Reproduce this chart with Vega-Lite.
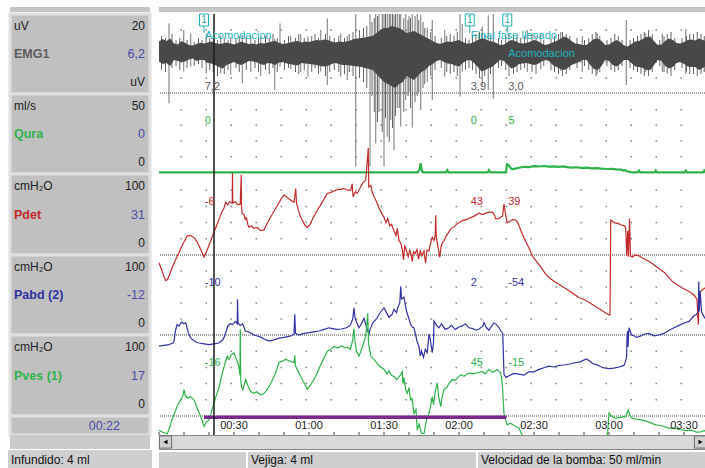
{
"$schema":"https://vega.github.io/schema/vega-lite/v6.json",
"padding":{"left":8,"top":7,"right":7,"bottom":0},
"background":"#ffffff",
"config":{"view":{"stroke":null},"font":"Liberation Sans"},
"datasets":{
"one":[{"ref":"baseline"}],
"cursor":[{"t":22}],
"edge":[{"t":219.2}],
"ticks":[{"t":0},{"t":10},{"t":20},{"t":30},{"t":40},{"t":50},{"t":60},{"t":70},{"t":80},{"t":90},{"t":100},{"t":110},{"t":120},{"t":130},{"t":140},{"t":150},{"t":160},{"t":170},{"t":180},{"t":190},{"t":200},{"t":210}],
"timeLabels":[{"t":30,"lab":"00:30"},{"t":60,"lab":"01:00"},{"t":90,"lab":"01:30"},{"t":120,"lab":"02:00"},{"t":150,"lab":"02:30"},{"t":180,"lab":"03:00"},{"t":210,"lab":"03:30"}],
"phases":[{"phase":"Llenado","start":18,"end":139}],
"events":[{"n":1,"t":18,"code":"1","label":"Acomodacion"},{"n":2,"t":124.3,"code":"1","label":"Final fase llenado"},{"n":3,"t":139.3,"code":"1","label":"Acomodacion"}],
"gridEmg":[{"g":-13},{"g":-5},{"g":3},{"g":11}],
"gridQura":[{"g":10},{"g":20},{"g":30},{"g":40}],
"gridP":[{"g":20},{"g":40},{"g":60},{"g":80}],
"labels":[
{"ch":"EMG1","role":"unit","txt":"uV"},{"ch":"EMG1","role":"max","txt":"20"},{"ch":"EMG1","role":"name","txt":"EMG1"},{"ch":"EMG1","role":"val","txt":"6,2"},{"ch":"EMG1","role":"min","txt":"uV"},
{"ch":"Qura","role":"unit","txt":"ml/s"},{"ch":"Qura","role":"max","txt":"50"},{"ch":"Qura","role":"name","txt":"Qura"},{"ch":"Qura","role":"val","txt":"0"},{"ch":"Qura","role":"min","txt":"0"},
{"ch":"Pdet","role":"unit","txt":"cmH₂O"},{"ch":"Pdet","role":"max","txt":"100"},{"ch":"Pdet","role":"name","txt":"Pdet"},{"ch":"Pdet","role":"val","txt":"31"},{"ch":"Pdet","role":"min","txt":"0"},
{"ch":"Pabd","role":"unit","txt":"cmH₂O"},{"ch":"Pabd","role":"max","txt":"100"},{"ch":"Pabd","role":"name","txt":"Pabd (2)"},{"ch":"Pabd","role":"val","txt":"-12"},{"ch":"Pabd","role":"min","txt":"0"},
{"ch":"Pves","role":"unit","txt":"cmH₂O"},{"ch":"Pves","role":"max","txt":"100"},{"ch":"Pves","role":"name","txt":"Pves (1)"},{"ch":"Pves","role":"val","txt":"17"},{"ch":"Pves","role":"min","txt":"0"},
{"ch":"time","role":"val","txt":"00:22"}],
"readouts":[
{"ch":"EMG1","t":18.3,"txt":"7,2"},{"ch":"EMG1","t":124.7,"txt":"3,9"},{"ch":"EMG1","t":139.7,"txt":"3,0"},
{"ch":"Qura","t":18.3,"txt":"0"},{"ch":"Qura","t":124.7,"txt":"0"},{"ch":"Qura","t":139.7,"txt":"5"},
{"ch":"Pdet","t":18.3,"txt":"-6"},{"ch":"Pdet","t":124.7,"txt":"43"},{"ch":"Pdet","t":139.7,"txt":"39"},
{"ch":"Pabd","t":18.3,"txt":"-10"},{"ch":"Pabd","t":124.7,"txt":"2"},{"ch":"Pabd","t":139.7,"txt":"-54"},
{"ch":"Pves","t":18.3,"txt":"-16"},{"ch":"Pves","t":124.7,"txt":"45"},{"ch":"Pves","t":139.7,"txt":"-15"}],
"status":[{"sec":1,"txt":"Infundido: 4 ml"},{"sec":2,"txt":"Vejiga: 4 ml"},{"sec":3,"txt":"Velocidad de la bomba: 50 ml/min"}],
"emgBand":[
{"t":0,"hi":5.2,"lo":-4.8},{"t":1.5,"hi":6.5,"lo":-6},{"t":3,"hi":5.5,"lo":-5.5},{"t":4.5,"hi":6.8,"lo":-7},{"t":6,"hi":4.3,"lo":-4},{"t":7.5,"hi":3.8,"lo":-4.5},{"t":9,"hi":5.5,"lo":-5},{"t":10.5,"hi":4.5,"lo":-4.8},{"t":12,"hi":3.5,"lo":-3.8},{"t":13.5,"hi":3.2,"lo":-3.2},{"t":15,"hi":4,"lo":-4.5},{"t":16.5,"hi":4.6,"lo":-4},{"t":18,"hi":4.3,"lo":-4},{"t":19.5,"hi":4.8,"lo":-5.5},{"t":21,"hi":5.2,"lo":-5.7},{"t":22.5,"hi":4.5,"lo":-6.5},{"t":24,"hi":4,"lo":-7.5},{"t":25.5,"hi":4.3,"lo":-8.2},{"t":27,"hi":4.8,"lo":-6.5},{"t":28.5,"hi":4.3,"lo":-5.7},{"t":30,"hi":3.8,"lo":-5},{"t":31.5,"hi":4.5,"lo":-6},{"t":33,"hi":5.2,"lo":-6.5},{"t":34.5,"hi":4.5,"lo":-5.5},{"t":36,"hi":4,"lo":-4.5},{"t":37.5,"hi":4.3,"lo":-4.8},{"t":39,"hi":3.8,"lo":-5},{"t":40.5,"hi":4.5,"lo":-6},{"t":42,"hi":4.3,"lo":-6.5},{"t":43.5,"hi":4.8,"lo":-5.5},{"t":45,"hi":5.2,"lo":-5.7},{"t":46.5,"hi":5.5,"lo":-6.5},{"t":48,"hi":4.6,"lo":-5.2},{"t":49.5,"hi":4,"lo":-5},{"t":51,"hi":4.3,"lo":-5.7},{"t":52.5,"hi":4.8,"lo":-6},{"t":54,"hi":5.2,"lo":-6.5},{"t":55.5,"hi":5.5,"lo":-6.8},{"t":57,"hi":4.8,"lo":-5.5},{"t":58.5,"hi":5.2,"lo":-5.7},{"t":60,"hi":5,"lo":-6},{"t":61.5,"hi":5.5,"lo":-6.2},{"t":63,"hi":6,"lo":-6.5},{"t":64.5,"hi":5.8,"lo":-7},{"t":66,"hi":6.2,"lo":-7.3},{"t":67.5,"hi":6,"lo":-7},{"t":69,"hi":5.2,"lo":-6},{"t":70.5,"hi":4.8,"lo":-5.5},{"t":72,"hi":5.3,"lo":-6},{"t":73.5,"hi":5,"lo":-6.5},{"t":75,"hi":5.2,"lo":-6.5},{"t":76.5,"hi":5.8,"lo":-6.8},{"t":78,"hi":6.5,"lo":-7},{"t":79.5,"hi":6.8,"lo":-7.3},{"t":81,"hi":7,"lo":-7.5},{"t":82.5,"hi":7.3,"lo":-8},{"t":84,"hi":7.8,"lo":-8.5},{"t":85.5,"hi":8,"lo":-9},{"t":87,"hi":9.5,"lo":-11},{"t":88.5,"hi":11,"lo":-13},{"t":90,"hi":12,"lo":-15},{"t":91.5,"hi":12,"lo":-16},{"t":93,"hi":13,"lo":-17},{"t":94.5,"hi":12.5,"lo":-18},{"t":96,"hi":12,"lo":-16},{"t":97.5,"hi":11,"lo":-15},{"t":99,"hi":9.5,"lo":-12},{"t":100.5,"hi":10,"lo":-13},{"t":102,"hi":10.5,"lo":-14},{"t":103.5,"hi":9.5,"lo":-12},{"t":105,"hi":8.5,"lo":-10},{"t":106.5,"hi":7.5,"lo":-9},{"t":108,"hi":6.5,"lo":-7},{"t":109.5,"hi":5.5,"lo":-6},{"t":111,"hi":4.5,"lo":-4.5},{"t":112.5,"hi":4,"lo":-4},{"t":114,"hi":4.8,"lo":-5},{"t":115.5,"hi":5.2,"lo":-5.7},{"t":117,"hi":5,"lo":-6},{"t":118.5,"hi":5.5,"lo":-6.8},{"t":120,"hi":6,"lo":-7.3},{"t":121.5,"hi":5,"lo":-5.5},{"t":123,"hi":4.3,"lo":-4.3},{"t":124.5,"hi":4.3,"lo":-4},{"t":126,"hi":5,"lo":-5.5},{"t":127.5,"hi":6,"lo":-7.5},{"t":129,"hi":6.8,"lo":-9.8},{"t":130.5,"hi":6.5,"lo":-9},{"t":132,"hi":5.5,"lo":-8},{"t":133.5,"hi":5.2,"lo":-7.3},{"t":135,"hi":4.5,"lo":-5.5},{"t":136.5,"hi":3.5,"lo":-4},{"t":138,"hi":3.8,"lo":-4.5},{"t":139.5,"hi":5,"lo":-6.5},{"t":141,"hi":6,"lo":-8.2},{"t":142.5,"hi":5.5,"lo":-7.5},{"t":144,"hi":4.5,"lo":-6},{"t":145.5,"hi":4.3,"lo":-5.7},{"t":147,"hi":4.5,"lo":-5.5},{"t":148.5,"hi":5.2,"lo":-6},{"t":150,"hi":6,"lo":-6.5},{"t":151.5,"hi":5.5,"lo":-6},{"t":153,"hi":4.3,"lo":-4.8},{"t":154.5,"hi":3.5,"lo":-4},{"t":156,"hi":4,"lo":-4.5},{"t":157.5,"hi":4.8,"lo":-6.5},{"t":159,"hi":5.5,"lo":-7.5},{"t":160.5,"hi":6.5,"lo":-8.5},{"t":162,"hi":7.7,"lo":-9},{"t":163.5,"hi":7,"lo":-8},{"t":165,"hi":5.5,"lo":-6.5},{"t":166.5,"hi":4.3,"lo":-5.7},{"t":168,"hi":4,"lo":-5},{"t":169.5,"hi":3.5,"lo":-4},{"t":171,"hi":3.5,"lo":-4},{"t":172.5,"hi":5,"lo":-6.5},{"t":174,"hi":6.5,"lo":-8.5},{"t":175.5,"hi":6.8,"lo":-9},{"t":177,"hi":5.5,"lo":-7},{"t":178.5,"hi":3.5,"lo":-4},{"t":180,"hi":3.8,"lo":-4.5},{"t":181.5,"hi":5,"lo":-6.5},{"t":183,"hi":6,"lo":-7.3},{"t":184.5,"hi":5,"lo":-6},{"t":186,"hi":3.2,"lo":-4},{"t":187.5,"hi":2.7,"lo":-4},{"t":189,"hi":4,"lo":-5.5},{"t":190.5,"hi":5.2,"lo":-7.3},{"t":192,"hi":5.5,"lo":-7.5},{"t":193.5,"hi":6.5,"lo":-8},{"t":195,"hi":7.5,"lo":-9},{"t":196.5,"hi":7.7,"lo":-9},{"t":198,"hi":5.5,"lo":-6.5},{"t":199.5,"hi":3.5,"lo":-4},{"t":201,"hi":3.8,"lo":-4.5},{"t":202.5,"hi":5.5,"lo":-7},{"t":204,"hi":6.8,"lo":-8.2},{"t":205.5,"hi":6,"lo":-7.5},{"t":207,"hi":4.5,"lo":-5.5},{"t":208.5,"hi":4.3,"lo":-5},{"t":210,"hi":5,"lo":-6},{"t":211.5,"hi":6,"lo":-7.3},{"t":213,"hi":6.3,"lo":-7.5},{"t":214.5,"hi":5.8,"lo":-7.5},{"t":216,"hi":6.8,"lo":-9},{"t":217.5,"hi":6,"lo":-8},{"t":219.2,"hi":5.2,"lo":-6.5}],
"emgTexture":[
{"t":1,"hi":8,"lo":-9},{"t":2.6,"hi":7,"lo":-10},{"t":5.2,"hi":9,"lo":-8},{"t":6.8,"hi":6,"lo":-7},{"t":8.3,"hi":7,"lo":-9},{"t":11.2,"hi":6,"lo":-8},{"t":14.1,"hi":5,"lo":-7},{"t":15.8,"hi":7,"lo":-6},{"t":17.2,"hi":6,"lo":-8},{"t":20.3,"hi":7,"lo":-9},{"t":21.7,"hi":8,"lo":-10},{"t":23.4,"hi":6,"lo":-12},{"t":26.1,"hi":7,"lo":-11},{"t":27.6,"hi":6,"lo":-9},{"t":30.8,"hi":7,"lo":-8},{"t":32.1,"hi":8,"lo":-10},{"t":34.9,"hi":7,"lo":-9},{"t":38.4,"hi":6,"lo":-8},{"t":39.8,"hi":7,"lo":-10},{"t":42.6,"hi":8,"lo":-9},{"t":44.1,"hi":7,"lo":-11},{"t":45.6,"hi":9,"lo":-8},{"t":47.3,"hi":7,"lo":-10},{"t":50.2,"hi":6,"lo":-9},{"t":51.8,"hi":8,"lo":-8},{"t":54.6,"hi":7,"lo":-10},{"t":55.9,"hi":9,"lo":-11},{"t":58.1,"hi":7,"lo":-9},{"t":61.1,"hi":8,"lo":-10},{"t":62.4,"hi":9,"lo":-8},{"t":63.8,"hi":7,"lo":-11},{"t":66.6,"hi":9,"lo":-12},{"t":68.3,"hi":8,"lo":-10},{"t":70.1,"hi":7,"lo":-9},{"t":71.9,"hi":8,"lo":-10},{"t":74.2,"hi":7,"lo":-11},{"t":76.1,"hi":9,"lo":-10},{"t":77.6,"hi":10,"lo":-12},{"t":80.2,"hi":11,"lo":-13},{"t":81.8,"hi":12,"lo":-15},{"t":83.1,"hi":13,"lo":-18},{"t":85.2,"hi":15,"lo":-22},{"t":86.1,"hi":17,"lo":-30},{"t":87.4,"hi":18,"lo":-35},{"t":89.3,"hi":19,"lo":-40},{"t":90.6,"hi":19,"lo":-33},{"t":92.1,"hi":19,"lo":-45},{"t":93.4,"hi":19,"lo":-38},{"t":94.6,"hi":19,"lo":-32},{"t":96.1,"hi":19,"lo":-28},{"t":97.9,"hi":17,"lo":-30},{"t":99.6,"hi":16,"lo":-22},{"t":100.6,"hi":17,"lo":-28},{"t":102.4,"hi":18,"lo":-25},{"t":103.9,"hi":16,"lo":-20},{"t":105.6,"hi":15,"lo":-18},{"t":106.3,"hi":12,"lo":-16},{"t":108.7,"hi":10,"lo":-12},{"t":110.4,"hi":8,"lo":-9},{"t":112.9,"hi":7,"lo":-8},{"t":115.1,"hi":8,"lo":-10},{"t":116.5,"hi":9,"lo":-11},{"t":118,"hi":8,"lo":-10},{"t":119.3,"hi":10,"lo":-12},{"t":122.6,"hi":7,"lo":-9},{"t":124,"hi":6,"lo":-8},{"t":125.4,"hi":8,"lo":-9},{"t":126.8,"hi":9,"lo":-11},{"t":128.2,"hi":10,"lo":-13},{"t":130.3,"hi":9,"lo":-12},{"t":132.6,"hi":8,"lo":-11},{"t":135.8,"hi":7,"lo":-8},{"t":137,"hi":6,"lo":-7},{"t":138.7,"hi":8,"lo":-9},{"t":141.8,"hi":9,"lo":-11},{"t":143.2,"hi":8,"lo":-10},{"t":144.7,"hi":7,"lo":-9},{"t":146.2,"hi":8,"lo":-8},{"t":149.2,"hi":9,"lo":-10},{"t":150.8,"hi":8,"lo":-11},{"t":153.9,"hi":6,"lo":-7},{"t":156.8,"hi":7,"lo":-9},{"t":158.2,"hi":8,"lo":-10},{"t":159.8,"hi":9,"lo":-11},{"t":161.4,"hi":10,"lo":-12},{"t":162.9,"hi":9,"lo":-11},{"t":164.3,"hi":8,"lo":-9},{"t":167.2,"hi":7,"lo":-8},{"t":170.2,"hi":6,"lo":-7},{"t":171.9,"hi":7,"lo":-9},{"t":173.3,"hi":9,"lo":-11},{"t":174.8,"hi":10,"lo":-12},{"t":176.3,"hi":8,"lo":-10},{"t":179.2,"hi":6,"lo":-7},{"t":180.8,"hi":7,"lo":-9},{"t":182.3,"hi":9,"lo":-10},{"t":183.7,"hi":8,"lo":-9},{"t":185.2,"hi":6,"lo":-7},{"t":188.4,"hi":6,"lo":-8},{"t":189.8,"hi":7,"lo":-9},{"t":191.4,"hi":8,"lo":-10},{"t":192.8,"hi":9,"lo":-11},{"t":194.1,"hi":10,"lo":-12},{"t":195.8,"hi":11,"lo":-12},{"t":197.3,"hi":9,"lo":-10},{"t":200.3,"hi":6,"lo":-7},{"t":202,"hi":8,"lo":-10},{"t":203.3,"hi":9,"lo":-11},{"t":204.8,"hi":10,"lo":-12},{"t":206.3,"hi":7,"lo":-9},{"t":209.2,"hi":7,"lo":-8},{"t":211,"hi":8,"lo":-10},{"t":212.3,"hi":9,"lo":-11},{"t":213.8,"hi":9,"lo":-11},{"t":215.3,"hi":10,"lo":-12},{"t":216.8,"hi":9,"lo":-11},{"t":218.1,"hi":8,"lo":-10}],
"emgSpikes":[
{"t":4,"hi":14.3,"lo":-25.7},{"t":9.9,"hi":11,"lo":-9.8},{"t":12.7,"hi":9.3,"lo":-7.3},{"t":18.9,"hi":9.3,"lo":-10.7},{"t":24.7,"hi":8.3,"lo":-10.7},{"t":28.7,"hi":7.5,"lo":-11.5},{"t":33.3,"hi":8.5,"lo":-15.7},{"t":36.7,"hi":8,"lo":-10},{"t":40.7,"hi":7.5,"lo":-12},{"t":46.3,"hi":6.5,"lo":-19},{"t":48.4,"hi":14.3,"lo":-7.3},{"t":52.7,"hi":8.2,"lo":-8.5},{"t":56.7,"hi":9,"lo":-10},{"t":59.6,"hi":7.7,"lo":-12.3},{"t":64.7,"hi":11,"lo":-9.8},{"t":67.3,"hi":16.8,"lo":-16.5},{"t":72.7,"hi":9.3,"lo":-12.3},{"t":75.3,"hi":8,"lo":-14},{"t":78.7,"hi":19,"lo":-57.3},{"t":84.4,"hi":19,"lo":-57.3},{"t":86.7,"hi":19,"lo":-45.7},{"t":88,"hi":19,"lo":-30},{"t":90,"hi":19,"lo":-57.3},{"t":91.3,"hi":19,"lo":-42.3},{"t":92.7,"hi":19,"lo":-34},{"t":94,"hi":18.5,"lo":-49},{"t":95.3,"hi":19,"lo":-28},{"t":96.7,"hi":19,"lo":-37.3},{"t":98.7,"hi":19,"lo":-24},{"t":100,"hi":18,"lo":-20},{"t":101.3,"hi":19,"lo":-37.8},{"t":103.3,"hi":19,"lo":-22},{"t":104.7,"hi":18.5,"lo":-29},{"t":107.3,"hi":12,"lo":-15},{"t":109.3,"hi":16,"lo":-24},{"t":114.3,"hi":11,"lo":-12.3},{"t":120.4,"hi":19,"lo":-22.3},{"t":121.3,"hi":14,"lo":-10},{"t":129.3,"hi":12.8,"lo":-16.5},{"t":131.7,"hi":18.3,"lo":-19},{"t":133.7,"hi":19,"lo":-23.2},{"t":140,"hi":9.3,"lo":-12},{"t":147.3,"hi":11,"lo":-10},{"t":152.7,"hi":9.3,"lo":-8.5},{"t":160.7,"hi":10,"lo":-9.5},{"t":169.3,"hi":8,"lo":-10},{"t":175.3,"hi":9.3,"lo":-11},{"t":186.9,"hi":16,"lo":-16.5},{"t":194.7,"hi":9.3,"lo":-10},{"t":201.3,"hi":9.3,"lo":-10},{"t":210.7,"hi":11.5,"lo":-11},{"t":218.7,"hi":10.5,"lo":-11}],
"qura":[{"t":0,"v":0},{"t":103.5,"v":0},{"t":104.2,"v":2},{"t":104.7,"v":5.8},{"t":105.2,"v":0.5},{"t":106,"v":0},{"t":114.8,"v":0},{"t":115.3,"v":1.5},{"t":115.8,"v":0},{"t":131.5,"v":0},{"t":132,"v":1.5},{"t":132.5,"v":0},{"t":138.8,"v":0},{"t":139.2,"v":5.2},{"t":140,"v":4.5},{"t":140.5,"v":3},{"t":141.3,"v":2},{"t":142.5,"v":2.4},{"t":144,"v":3},{"t":146,"v":3.6},{"t":148,"v":3.4},{"t":150,"v":4},{"t":152,"v":3.8},{"t":154,"v":4.1},{"t":156,"v":3.7},{"t":158,"v":3.9},{"t":160,"v":3.5},{"t":161.5,"v":3.8},{"t":163.3,"v":3.4},{"t":165,"v":3.1},{"t":167,"v":3.3},{"t":169,"v":2.9},{"t":171.3,"v":3},{"t":173,"v":2.6},{"t":175,"v":2.8},{"t":177,"v":2.4},{"t":179.3,"v":2.2},{"t":181,"v":2.3},{"t":183,"v":1.9},{"t":184.7,"v":1.8},{"t":185.5,"v":1.2},{"t":186.5,"v":1.5},{"t":187.2,"v":0.6},{"t":188,"v":0.5},{"t":189,"v":0},{"t":191.5,"v":0},{"t":192,"v":1.2},{"t":192.5,"v":0},{"t":198.3,"v":0},{"t":198.7,"v":1.2},{"t":199.2,"v":0},{"t":210.3,"v":0},{"t":210.7,"v":1.2},{"t":211.2,"v":0},{"t":217.7,"v":0},{"t":218.1,"v":1.2},{"t":218.6,"v":0},{"t":219.2,"v":0}],
"pdet":[{"t":0,"v":-9.6},{"t":1,"v":-18},{"t":2,"v":-27},{"t":2.7,"v":-31.7},{"t":3.5,"v":-30},{"t":4.5,"v":-22},{"t":5.5,"v":-14},{"t":6.7,"v":-5.4},{"t":8,"v":3},{"t":9.3,"v":12},{"t":10.3,"v":18},{"t":11.3,"v":23.7},{"t":12.5,"v":24},{"t":14,"v":21.7},{"t":15.3,"v":16},{"t":16.5,"v":8},{"t":18,"v":-2.5},{"t":19,"v":4},{"t":20,"v":12},{"t":21,"v":20},{"t":22,"v":28},{"t":23,"v":36},{"t":24,"v":44},{"t":25,"v":52},{"t":26,"v":58},{"t":26.7,"v":65},{"t":27.5,"v":62},{"t":28.3,"v":66},{"t":29.3,"v":64},{"t":29.4,"v":101},{"t":29.5,"v":64},{"t":30.5,"v":66},{"t":31.5,"v":62},{"t":32.5,"v":63},{"t":32.9,"v":99},{"t":33,"v":60},{"t":33.3,"v":51},{"t":34,"v":50},{"t":34.5,"v":44},{"t":35,"v":46},{"t":35.5,"v":38},{"t":36,"v":34},{"t":37,"v":36},{"t":38,"v":33},{"t":39.3,"v":34},{"t":40.7,"v":30},{"t":42,"v":31},{"t":43.2,"v":38.5},{"t":44.5,"v":46},{"t":46,"v":54},{"t":47.5,"v":62},{"t":48.8,"v":69},{"t":50,"v":74},{"t":51,"v":72},{"t":52,"v":69},{"t":53,"v":67},{"t":54,"v":65},{"t":54.7,"v":82},{"t":55,"v":64},{"t":56,"v":53},{"t":56.7,"v":46.7},{"t":57.5,"v":42},{"t":58.3,"v":37},{"t":59.3,"v":34},{"t":60.3,"v":37},{"t":61.5,"v":45},{"t":63.3,"v":55},{"t":64.5,"v":61},{"t":66,"v":69},{"t":67.3,"v":76},{"t":68.5,"v":77},{"t":70,"v":79},{"t":71.5,"v":81},{"t":72.7,"v":81},{"t":74,"v":82},{"t":75.3,"v":80},{"t":76.7,"v":80},{"t":77.3,"v":88},{"t":77.6,"v":72},{"t":78.5,"v":78},{"t":79.3,"v":76},{"t":80.5,"v":83},{"t":81.5,"v":89},{"t":82.7,"v":92.5},{"t":83.7,"v":132},{"t":83.9,"v":84},{"t":84.7,"v":86},{"t":85.3,"v":78},{"t":86,"v":71.7},{"t":87,"v":66},{"t":88,"v":58},{"t":89,"v":52},{"t":90,"v":46.7},{"t":90.8,"v":40},{"t":91.5,"v":45},{"t":92.3,"v":36},{"t":93,"v":38},{"t":94,"v":30},{"t":94.8,"v":24},{"t":95.3,"v":33},{"t":96,"v":18},{"t":96.8,"v":14},{"t":97.3,"v":7},{"t":97.8,"v":-6},{"t":98.3,"v":12},{"t":99,"v":5},{"t":99.7,"v":-2},{"t":100.3,"v":6},{"t":100.7,"v":3},{"t":101.3,"v":-8},{"t":101.8,"v":4},{"t":102.5,"v":2},{"t":103.2,"v":7},{"t":103.8,"v":-5},{"t":104.5,"v":5},{"t":105.2,"v":-1},{"t":106,"v":5},{"t":106.6,"v":-10},{"t":107.2,"v":6},{"t":108,"v":5},{"t":108.6,"v":14},{"t":109.3,"v":21.7},{"t":110,"v":18},{"t":110.5,"v":25},{"t":110.7,"v":49},{"t":110.9,"v":22},{"t":111.6,"v":10},{"t":112.3,"v":-3},{"t":112.8,"v":10},{"t":113.3,"v":15},{"t":114,"v":17.5},{"t":115,"v":24},{"t":116.7,"v":32},{"t":118,"v":35},{"t":119.5,"v":39},{"t":121.3,"v":42.5},{"t":123,"v":44},{"t":124.5,"v":46},{"t":126,"v":48},{"t":128,"v":51.7},{"t":129.5,"v":50},{"t":131,"v":52},{"t":132.3,"v":53},{"t":133.3,"v":53},{"t":134.1,"v":50},{"t":134.7,"v":44.6},{"t":135.7,"v":45},{"t":136.7,"v":46.7},{"t":137.4,"v":48},{"t":138,"v":63},{"t":138.6,"v":50},{"t":139.3,"v":40},{"t":140.3,"v":41},{"t":141.5,"v":44},{"t":142.7,"v":43},{"t":143.5,"v":40},{"t":144.3,"v":34},{"t":145.3,"v":26},{"t":146.5,"v":18},{"t":147.8,"v":10},{"t":149.3,"v":-1},{"t":151,"v":-8},{"t":152.8,"v":-15},{"t":154.7,"v":-24},{"t":156.5,"v":-29},{"t":158.3,"v":-33},{"t":160,"v":-36},{"t":161.3,"v":-39},{"t":163,"v":-42},{"t":164.5,"v":-45},{"t":166.3,"v":-49},{"t":168,"v":-52.5},{"t":170,"v":-55},{"t":172.3,"v":-59},{"t":174.7,"v":-64},{"t":176.5,"v":-67},{"t":178.3,"v":-71},{"t":180,"v":-74},{"t":180.4,"v":-74},{"t":180.7,"v":43},{"t":182,"v":40},{"t":183.5,"v":39},{"t":185,"v":37},{"t":186.3,"v":36},{"t":186.7,"v":33},{"t":187.1,"v":-1},{"t":187.5,"v":30},{"t":187.8,"v":-2},{"t":188.2,"v":45},{"t":188.6,"v":-1},{"t":189.3,"v":-2.5},{"t":190.5,"v":0},{"t":192,"v":-1},{"t":193.5,"v":-4},{"t":195.5,"v":-7},{"t":197,"v":-10},{"t":198.7,"v":-14},{"t":200.5,"v":-18},{"t":202.3,"v":-22},{"t":204,"v":-28},{"t":205.3,"v":-32.5},{"t":207,"v":-36},{"t":209,"v":-40},{"t":210.7,"v":-43},{"t":212.5,"v":-46},{"t":214.2,"v":-50},{"t":215.2,"v":-55},{"t":215.7,"v":-86},{"t":216.1,"v":-52},{"t":216.7,"v":-45},{"t":217.3,"v":-43},{"t":218.3,"v":-41},{"t":219.2,"v":-41}],
"pabd":[{"t":0,"v":-14},{"t":2,"v":-13},{"t":4,"v":-12},{"t":5.5,"v":-10},{"t":6,"v":-8},{"t":6.5,"v":4},{"t":7.2,"v":13},{"t":8,"v":11},{"t":9,"v":16},{"t":10,"v":14},{"t":10.7,"v":15.4},{"t":11.3,"v":8},{"t":11.8,"v":2},{"t":12.5,"v":-3},{"t":13.5,"v":-6},{"t":15,"v":-9},{"t":16,"v":-10},{"t":18,"v":-11},{"t":20,"v":-12},{"t":22,"v":-11},{"t":24,"v":-10},{"t":25.5,"v":-6},{"t":26,"v":-3},{"t":27,"v":6},{"t":27.5,"v":11},{"t":28.5,"v":14},{"t":29.5,"v":13},{"t":30.5,"v":17},{"t":31.3,"v":14},{"t":31.4,"v":44.6},{"t":31.6,"v":15},{"t":32.5,"v":12},{"t":33.5,"v":14},{"t":34.2,"v":8},{"t":34.5,"v":5},{"t":35.5,"v":4},{"t":37,"v":2},{"t":38,"v":0},{"t":39,"v":-1},{"t":41,"v":-3},{"t":42,"v":-5},{"t":44,"v":-7.5},{"t":46,"v":-6},{"t":48,"v":-4},{"t":50,"v":-3},{"t":51.5,"v":-2},{"t":53,"v":-1},{"t":54,"v":1},{"t":54.3,"v":26},{"t":54.6,"v":2},{"t":56,"v":0},{"t":58,"v":2},{"t":60,"v":3},{"t":62,"v":4},{"t":64,"v":5},{"t":66,"v":7},{"t":68,"v":9},{"t":69.5,"v":8},{"t":71,"v":7},{"t":73,"v":7.5},{"t":75,"v":9},{"t":76.5,"v":12},{"t":77.5,"v":20},{"t":78,"v":34},{"t":78.4,"v":21.6},{"t":79,"v":16},{"t":80,"v":9},{"t":81,"v":14},{"t":82,"v":21},{"t":83,"v":10},{"t":84,"v":1},{"t":84.5,"v":8},{"t":85.5,"v":15},{"t":87.2,"v":21},{"t":88,"v":26},{"t":89,"v":30},{"t":90,"v":34},{"t":91,"v":28},{"t":92,"v":22},{"t":93.3,"v":26},{"t":94,"v":32},{"t":95,"v":28},{"t":95.5,"v":34},{"t":96.3,"v":40},{"t":96.7,"v":61},{"t":97,"v":45},{"t":98,"v":47.5},{"t":98.5,"v":38},{"t":99,"v":30},{"t":100,"v":20},{"t":100.7,"v":13},{"t":101.3,"v":10},{"t":102,"v":9},{"t":102.5,"v":2},{"t":103.2,"v":-7.5},{"t":104,"v":-15},{"t":104.5,"v":-26},{"t":105,"v":-20},{"t":105.8,"v":-28},{"t":106.5,"v":-18},{"t":107.3,"v":-22},{"t":108,"v":1},{"t":108.5,"v":-5},{"t":109.3,"v":-22},{"t":109.8,"v":-10},{"t":110,"v":17.5},{"t":111,"v":12},{"t":112,"v":9},{"t":113,"v":14},{"t":114.5,"v":7},{"t":116,"v":9},{"t":117,"v":12},{"t":118.5,"v":7},{"t":120,"v":10},{"t":121.2,"v":11},{"t":122.5,"v":14},{"t":124,"v":9},{"t":125.5,"v":8},{"t":127,"v":6},{"t":128,"v":7.5},{"t":129.5,"v":11},{"t":130,"v":15.6},{"t":131,"v":9},{"t":132,"v":6},{"t":133,"v":11},{"t":134,"v":15},{"t":135,"v":13},{"t":136,"v":9},{"t":136.8,"v":5},{"t":137.5,"v":2},{"t":138,"v":-49},{"t":138.8,"v":-53},{"t":140,"v":-51},{"t":142,"v":-48},{"t":144,"v":-49},{"t":146,"v":-50},{"t":148,"v":-46},{"t":150,"v":-46},{"t":152,"v":-43},{"t":154,"v":-41},{"t":156,"v":-39},{"t":158,"v":-40},{"t":160,"v":-38},{"t":162,"v":-37.5},{"t":164,"v":-36.6},{"t":166,"v":-35},{"t":168,"v":-34},{"t":169.5,"v":-32},{"t":171,"v":-30},{"t":172.3,"v":-32.5},{"t":173.5,"v":-36},{"t":175,"v":-37},{"t":177,"v":-40},{"t":178,"v":-41},{"t":180,"v":-42},{"t":182,"v":-41.5},{"t":184,"v":-40},{"t":186,"v":-38},{"t":186.5,"v":-34},{"t":187,"v":-28},{"t":187.2,"v":-5},{"t":187.4,"v":5},{"t":187.6,"v":-15},{"t":188,"v":9},{"t":188.5,"v":5},{"t":189,"v":0},{"t":190,"v":-1},{"t":191,"v":-3},{"t":193,"v":-1},{"t":194,"v":1},{"t":196,"v":2},{"t":198,"v":-1},{"t":200,"v":0},{"t":202,"v":2},{"t":204,"v":6},{"t":206,"v":9},{"t":208,"v":12},{"t":210,"v":15},{"t":212,"v":17},{"t":214,"v":24},{"t":215,"v":26},{"t":215.7,"v":29},{"t":215.9,"v":67},{"t":216.1,"v":30},{"t":216.5,"v":55},{"t":217,"v":29},{"t":218,"v":23},{"t":219.2,"v":17.5}],
"pves":[{"t":0,"v":-17.5},{"t":1.5,"v":-20},{"t":3.3,"v":-22},{"t":4.5,"v":-12},{"t":5.5,"v":-2},{"t":6.7,"v":7.5},{"t":7.5,"v":14},{"t":8.7,"v":20},{"t":9.5,"v":24},{"t":10,"v":32.5},{"t":10.5,"v":26},{"t":11.3,"v":22},{"t":12.5,"v":24},{"t":14,"v":20},{"t":15.5,"v":8},{"t":17,"v":-3},{"t":18,"v":-13},{"t":19,"v":-7},{"t":20,"v":-5},{"t":21,"v":5},{"t":22,"v":16},{"t":23,"v":26},{"t":24,"v":35},{"t":24.7,"v":45},{"t":25.5,"v":55},{"t":26.5,"v":66},{"t":27.3,"v":74},{"t":28,"v":70},{"t":29,"v":76},{"t":30,"v":78},{"t":30.6,"v":73},{"t":31.3,"v":68},{"t":32,"v":60},{"t":32.4,"v":50},{"t":32.5,"v":107},{"t":32.7,"v":45},{"t":33,"v":36},{"t":33.5,"v":32.5},{"t":34.7,"v":45},{"t":35.5,"v":38},{"t":36.7,"v":30},{"t":38,"v":28},{"t":39,"v":30},{"t":40.7,"v":26},{"t":42,"v":28},{"t":43.3,"v":32.5},{"t":45,"v":42},{"t":46.5,"v":52},{"t":48,"v":66},{"t":49.5,"v":68},{"t":50.7,"v":70},{"t":52,"v":68},{"t":53,"v":67},{"t":54,"v":66},{"t":54.3,"v":75},{"t":54.6,"v":62},{"t":55.5,"v":56},{"t":57.3,"v":45},{"t":58.5,"v":38},{"t":59.3,"v":33},{"t":60.5,"v":38},{"t":62,"v":45},{"t":63.3,"v":53},{"t":64.5,"v":62},{"t":66,"v":72},{"t":67.3,"v":80},{"t":68.5,"v":82},{"t":70,"v":86},{"t":71.5,"v":84},{"t":73,"v":86.6},{"t":74.5,"v":84},{"t":75.3,"v":85},{"t":76.5,"v":82},{"t":77.5,"v":94},{"t":78,"v":108},{"t":78.4,"v":92},{"t":79,"v":80},{"t":80,"v":74},{"t":81,"v":82},{"t":82.7,"v":99},{"t":83.5,"v":127},{"t":83.8,"v":90},{"t":84.7,"v":74},{"t":86,"v":70},{"t":87,"v":66},{"t":88,"v":62},{"t":90,"v":57.5},{"t":91.2,"v":52},{"t":92,"v":56},{"t":93,"v":50},{"t":94,"v":49},{"t":95,"v":45},{"t":96.5,"v":50},{"t":97.3,"v":55},{"t":97.6,"v":40},{"t":98,"v":47},{"t":98.7,"v":32},{"t":99.3,"v":28},{"t":100,"v":35},{"t":100.6,"v":20},{"t":101.2,"v":22},{"t":102,"v":3},{"t":102.8,"v":8},{"t":103.3,"v":-17.5},{"t":104,"v":-10},{"t":105,"v":-21},{"t":106,"v":-22},{"t":107,"v":-5},{"t":108,"v":4},{"t":108.5,"v":10},{"t":109.3,"v":24},{"t":109.8,"v":14},{"t":110.5,"v":30},{"t":111.3,"v":41},{"t":111.8,"v":25},{"t":112.7,"v":11.6},{"t":113.3,"v":25},{"t":114,"v":32.5},{"t":115,"v":35},{"t":116,"v":40},{"t":117.3,"v":45},{"t":118.5,"v":44},{"t":120,"v":49},{"t":120.7,"v":51},{"t":122,"v":49},{"t":124,"v":53},{"t":126,"v":52},{"t":128,"v":54},{"t":129.3,"v":55},{"t":130.5,"v":52},{"t":132,"v":57.5},{"t":133.3,"v":54},{"t":134.5,"v":56},{"t":135.3,"v":57.5},{"t":136.7,"v":53},{"t":137.3,"v":40},{"t":138,"v":3},{"t":138.5,"v":-4},{"t":139.3,"v":-11},{"t":140.5,"v":-9},{"t":142.7,"v":-13},{"t":144,"v":-15},{"t":145.3,"v":-24},{"t":146.5,"v":-30},{"t":148,"v":-38},{"t":160,"v":-38},{"t":178,"v":-38},{"t":179.5,"v":-20},{"t":180,"v":4},{"t":181,"v":0},{"t":182.7,"v":-3},{"t":184,"v":-2},{"t":185.5,"v":-1},{"t":186.7,"v":-1},{"t":187.7,"v":7.5},{"t":188.3,"v":1},{"t":189.3,"v":-3},{"t":191,"v":-4},{"t":193.3,"v":-5},{"t":195.5,"v":-7},{"t":198.7,"v":-11},{"t":201,"v":-12},{"t":204,"v":-15},{"t":206,"v":-15},{"t":208.5,"v":-17},{"t":211,"v":-18},{"t":213,"v":-17.5},{"t":215,"v":-20},{"t":216.7,"v":-19.6},{"t":218,"v":-18},{"t":219.2,"v":-19.6}]
},
"spacing":2,
"hconcat":[
{"vconcat":[
{"width":140,"height":5,"view":{"fill":"#c4c4c4","stroke":null},"data":{"name":"one"},"mark":{"type":"text","fontSize":1,"opacity":0},"encoding":{"text":{"value":""}}},
{"width":140,"height":2,"data":{"name":"one"},"mark":{"type":"text","fontSize":1,"opacity":0},"encoding":{"text":{"value":""}}},
{"width":140,"height":80,"view":{"fill":"#c0c0c0","stroke":"#e0e0e0","strokeWidth":3},"data":{"name":"labels"},"transform":[{"filter":"datum.ch == 'EMG1'"}],
"layer":[
{"transform":[{"filter":"datum.role == 'unit'"}],"mark":{"type":"text","align":"left","dx":4,"fontSize":12,"color":"#1e1e1e"},"encoding":{"text":{"field":"txt"},"x":{"datum":"left","type":"nominal","scale":{"type":"point","domain":["left","right"],"padding":0},"axis":null},"y":{"datum":"top","type":"nominal","scale":{"type":"point","domain":["top","mid","bottom"],"padding":0.42},"axis":null}}},
{"transform":[{"filter":"datum.role == 'max'"}],"mark":{"type":"text","align":"right","dx":-5,"fontSize":12,"color":"#1e1e1e"},"encoding":{"text":{"field":"txt"},"x":{"datum":"right","type":"nominal","scale":{"type":"point","domain":["left","right"],"padding":0},"axis":null},"y":{"datum":"top","type":"nominal","scale":{"type":"point","domain":["top","mid","bottom"],"padding":0.42},"axis":null}}},
{"transform":[{"filter":"datum.role == 'name'"}],"mark":{"type":"text","align":"left","dx":4,"fontSize":12.5,"fontWeight":"bold","color":"#5c5c5c"},"encoding":{"text":{"field":"txt"},"x":{"datum":"left","type":"nominal","scale":{"type":"point","domain":["left","right"],"padding":0},"axis":null},"y":{"datum":"mid","type":"nominal","scale":{"type":"point","domain":["top","mid","bottom"],"padding":0.42},"axis":null}}},
{"transform":[{"filter":"datum.role == 'val'"}],"mark":{"type":"text","align":"right","dx":-5,"fontSize":12.5,"color":"#4b4ba8"},"encoding":{"text":{"field":"txt"},"x":{"datum":"right","type":"nominal","scale":{"type":"point","domain":["left","right"],"padding":0},"axis":null},"y":{"datum":"mid","type":"nominal","scale":{"type":"point","domain":["top","mid","bottom"],"padding":0.42},"axis":null}}},
{"transform":[{"filter":"datum.role == 'min'"}],"mark":{"type":"text","align":"right","dx":-5,"fontSize":12,"color":"#1e1e1e"},"encoding":{"text":{"field":"txt"},"x":{"datum":"right","type":"nominal","scale":{"type":"point","domain":["left","right"],"padding":0},"axis":null},"y":{"datum":"bottom","type":"nominal","scale":{"type":"point","domain":["top","mid","bottom"],"padding":0.42},"axis":null}}}
]},
{"width":140,"height":80,"view":{"fill":"#c0c0c0","stroke":"#e0e0e0","strokeWidth":3},"data":{"name":"labels"},"transform":[{"filter":"datum.ch == 'Qura'"}],
"layer":[
{"transform":[{"filter":"datum.role == 'unit'"}],"mark":{"type":"text","align":"left","dx":4,"fontSize":12,"color":"#1e1e1e"},"encoding":{"text":{"field":"txt"},"x":{"datum":"left","type":"nominal","scale":{"type":"point","domain":["left","right"],"padding":0},"axis":null},"y":{"datum":"top","type":"nominal","scale":{"type":"point","domain":["top","mid","bottom"],"padding":0.42},"axis":null}}},
{"transform":[{"filter":"datum.role == 'max'"}],"mark":{"type":"text","align":"right","dx":-5,"fontSize":12,"color":"#1e1e1e"},"encoding":{"text":{"field":"txt"},"x":{"datum":"right","type":"nominal","scale":{"type":"point","domain":["left","right"],"padding":0},"axis":null},"y":{"datum":"top","type":"nominal","scale":{"type":"point","domain":["top","mid","bottom"],"padding":0.42},"axis":null}}},
{"transform":[{"filter":"datum.role == 'name'"}],"mark":{"type":"text","align":"left","dx":4,"fontSize":12.5,"fontWeight":"bold","color":"#2eb34a"},"encoding":{"text":{"field":"txt"},"x":{"datum":"left","type":"nominal","scale":{"type":"point","domain":["left","right"],"padding":0},"axis":null},"y":{"datum":"mid","type":"nominal","scale":{"type":"point","domain":["top","mid","bottom"],"padding":0.42},"axis":null}}},
{"transform":[{"filter":"datum.role == 'val'"}],"mark":{"type":"text","align":"right","dx":-5,"fontSize":12.5,"color":"#4b4ba8"},"encoding":{"text":{"field":"txt"},"x":{"datum":"right","type":"nominal","scale":{"type":"point","domain":["left","right"],"padding":0},"axis":null},"y":{"datum":"mid","type":"nominal","scale":{"type":"point","domain":["top","mid","bottom"],"padding":0.42},"axis":null}}},
{"transform":[{"filter":"datum.role == 'min'"}],"mark":{"type":"text","align":"right","dx":-5,"fontSize":12,"color":"#1e1e1e"},"encoding":{"text":{"field":"txt"},"x":{"datum":"right","type":"nominal","scale":{"type":"point","domain":["left","right"],"padding":0},"axis":null},"y":{"datum":"bottom","type":"nominal","scale":{"type":"point","domain":["top","mid","bottom"],"padding":0.42},"axis":null}}}
]},
{"width":140,"height":81,"view":{"fill":"#c0c0c0","stroke":"#e0e0e0","strokeWidth":3},"data":{"name":"labels"},"transform":[{"filter":"datum.ch == 'Pdet'"}],
"layer":[
{"transform":[{"filter":"datum.role == 'unit'"}],"mark":{"type":"text","align":"left","dx":4,"fontSize":12,"color":"#1e1e1e"},"encoding":{"text":{"field":"txt"},"x":{"datum":"left","type":"nominal","scale":{"type":"point","domain":["left","right"],"padding":0},"axis":null},"y":{"datum":"top","type":"nominal","scale":{"type":"point","domain":["top","mid","bottom"],"padding":0.42},"axis":null}}},
{"transform":[{"filter":"datum.role == 'max'"}],"mark":{"type":"text","align":"right","dx":-5,"fontSize":12,"color":"#1e1e1e"},"encoding":{"text":{"field":"txt"},"x":{"datum":"right","type":"nominal","scale":{"type":"point","domain":["left","right"],"padding":0},"axis":null},"y":{"datum":"top","type":"nominal","scale":{"type":"point","domain":["top","mid","bottom"],"padding":0.42},"axis":null}}},
{"transform":[{"filter":"datum.role == 'name'"}],"mark":{"type":"text","align":"left","dx":4,"fontSize":12.5,"fontWeight":"bold","color":"#c42a2a"},"encoding":{"text":{"field":"txt"},"x":{"datum":"left","type":"nominal","scale":{"type":"point","domain":["left","right"],"padding":0},"axis":null},"y":{"datum":"mid","type":"nominal","scale":{"type":"point","domain":["top","mid","bottom"],"padding":0.42},"axis":null}}},
{"transform":[{"filter":"datum.role == 'val'"}],"mark":{"type":"text","align":"right","dx":-5,"fontSize":12.5,"color":"#4b4ba8"},"encoding":{"text":{"field":"txt"},"x":{"datum":"right","type":"nominal","scale":{"type":"point","domain":["left","right"],"padding":0},"axis":null},"y":{"datum":"mid","type":"nominal","scale":{"type":"point","domain":["top","mid","bottom"],"padding":0.42},"axis":null}}},
{"transform":[{"filter":"datum.role == 'min'"}],"mark":{"type":"text","align":"right","dx":-5,"fontSize":12,"color":"#1e1e1e"},"encoding":{"text":{"field":"txt"},"x":{"datum":"right","type":"nominal","scale":{"type":"point","domain":["left","right"],"padding":0},"axis":null},"y":{"datum":"bottom","type":"nominal","scale":{"type":"point","domain":["top","mid","bottom"],"padding":0.42},"axis":null}}}
]},
{"width":140,"height":80,"view":{"fill":"#c0c0c0","stroke":"#e0e0e0","strokeWidth":3},"data":{"name":"labels"},"transform":[{"filter":"datum.ch == 'Pabd'"}],
"layer":[
{"transform":[{"filter":"datum.role == 'unit'"}],"mark":{"type":"text","align":"left","dx":4,"fontSize":12,"color":"#1e1e1e"},"encoding":{"text":{"field":"txt"},"x":{"datum":"left","type":"nominal","scale":{"type":"point","domain":["left","right"],"padding":0},"axis":null},"y":{"datum":"top","type":"nominal","scale":{"type":"point","domain":["top","mid","bottom"],"padding":0.42},"axis":null}}},
{"transform":[{"filter":"datum.role == 'max'"}],"mark":{"type":"text","align":"right","dx":-5,"fontSize":12,"color":"#1e1e1e"},"encoding":{"text":{"field":"txt"},"x":{"datum":"right","type":"nominal","scale":{"type":"point","domain":["left","right"],"padding":0},"axis":null},"y":{"datum":"top","type":"nominal","scale":{"type":"point","domain":["top","mid","bottom"],"padding":0.42},"axis":null}}},
{"transform":[{"filter":"datum.role == 'name'"}],"mark":{"type":"text","align":"left","dx":4,"fontSize":12.5,"fontWeight":"bold","color":"#3030a0"},"encoding":{"text":{"field":"txt"},"x":{"datum":"left","type":"nominal","scale":{"type":"point","domain":["left","right"],"padding":0},"axis":null},"y":{"datum":"mid","type":"nominal","scale":{"type":"point","domain":["top","mid","bottom"],"padding":0.42},"axis":null}}},
{"transform":[{"filter":"datum.role == 'val'"}],"mark":{"type":"text","align":"right","dx":-5,"fontSize":12.5,"color":"#4b4ba8"},"encoding":{"text":{"field":"txt"},"x":{"datum":"right","type":"nominal","scale":{"type":"point","domain":["left","right"],"padding":0},"axis":null},"y":{"datum":"mid","type":"nominal","scale":{"type":"point","domain":["top","mid","bottom"],"padding":0.42},"axis":null}}},
{"transform":[{"filter":"datum.role == 'min'"}],"mark":{"type":"text","align":"right","dx":-5,"fontSize":12,"color":"#1e1e1e"},"encoding":{"text":{"field":"txt"},"x":{"datum":"right","type":"nominal","scale":{"type":"point","domain":["left","right"],"padding":0},"axis":null},"y":{"datum":"bottom","type":"nominal","scale":{"type":"point","domain":["top","mid","bottom"],"padding":0.42},"axis":null}}}
]},
{"width":140,"height":81,"view":{"fill":"#c0c0c0","stroke":"#e0e0e0","strokeWidth":3},"data":{"name":"labels"},"transform":[{"filter":"datum.ch == 'Pves'"}],
"layer":[
{"transform":[{"filter":"datum.role == 'unit'"}],"mark":{"type":"text","align":"left","dx":4,"fontSize":12,"color":"#1e1e1e"},"encoding":{"text":{"field":"txt"},"x":{"datum":"left","type":"nominal","scale":{"type":"point","domain":["left","right"],"padding":0},"axis":null},"y":{"datum":"top","type":"nominal","scale":{"type":"point","domain":["top","mid","bottom"],"padding":0.42},"axis":null}}},
{"transform":[{"filter":"datum.role == 'max'"}],"mark":{"type":"text","align":"right","dx":-5,"fontSize":12,"color":"#1e1e1e"},"encoding":{"text":{"field":"txt"},"x":{"datum":"right","type":"nominal","scale":{"type":"point","domain":["left","right"],"padding":0},"axis":null},"y":{"datum":"top","type":"nominal","scale":{"type":"point","domain":["top","mid","bottom"],"padding":0.42},"axis":null}}},
{"transform":[{"filter":"datum.role == 'name'"}],"mark":{"type":"text","align":"left","dx":4,"fontSize":12.5,"fontWeight":"bold","color":"#2eb34a"},"encoding":{"text":{"field":"txt"},"x":{"datum":"left","type":"nominal","scale":{"type":"point","domain":["left","right"],"padding":0},"axis":null},"y":{"datum":"mid","type":"nominal","scale":{"type":"point","domain":["top","mid","bottom"],"padding":0.42},"axis":null}}},
{"transform":[{"filter":"datum.role == 'val'"}],"mark":{"type":"text","align":"right","dx":-5,"fontSize":12.5,"color":"#4b4ba8"},"encoding":{"text":{"field":"txt"},"x":{"datum":"right","type":"nominal","scale":{"type":"point","domain":["left","right"],"padding":0},"axis":null},"y":{"datum":"mid","type":"nominal","scale":{"type":"point","domain":["top","mid","bottom"],"padding":0.42},"axis":null}}},
{"transform":[{"filter":"datum.role == 'min'"}],"mark":{"type":"text","align":"right","dx":-5,"fontSize":12,"color":"#1e1e1e"},"encoding":{"text":{"field":"txt"},"x":{"datum":"right","type":"nominal","scale":{"type":"point","domain":["left","right"],"padding":0},"axis":null},"y":{"datum":"bottom","type":"nominal","scale":{"type":"point","domain":["top","mid","bottom"],"padding":0.42},"axis":null}}}
]},
{"width":140,"height":19,"view":{"fill":"#c0c0c0","stroke":"#e0e0e0","strokeWidth":3},"data":{"name":"labels"},"transform":[{"filter":"datum.ch == 'time'"}],
"mark":{"type":"text","align":"right","dx":-30,"fontSize":12.5,"color":"#4b4ba8"},"encoding":{"text":{"field":"txt"},"x":{"datum":"right","type":"nominal","scale":{"type":"point","domain":["left","right"],"padding":0},"axis":null}}},
{"width":140,"height":14,"view":{"fill":"#cacaca","stroke":null},"data":{"name":"one"},"mark":{"type":"text","fontSize":1,"opacity":0},"encoding":{"text":{"value":""}}},
{"width":140,"height":3,"data":{"name":"one"},"mark":{"type":"text","fontSize":1,"opacity":0},"encoding":{"text":{"value":""}}},
{"width":140,"height":16,"view":{"fill":"#cfcfcf","stroke":"#cfcfcf","strokeWidth":4},"data":{"name":"status"},"transform":[{"filter":"datum.sec == 1"}],"mark":{"type":"text","align":"left","dx":1,"fontSize":12,"color":"#111111"},"encoding":{"text":{"field":"txt"},"x":{"datum":"left","type":"nominal","scale":{"type":"point","domain":["left","right"],"padding":0},"axis":null}}}
],"spacing":0,"bounds":"flush"},
{"vconcat":[
{"width":548,"height":5,"view":{"fill":"#c4c4c4","stroke":null},"data":{"name":"one"},"mark":{"type":"text","fontSize":1,"opacity":0},"encoding":{"text":{"value":""}}},
{"width":548,"height":2,"data":{"name":"one"},"mark":{"type":"text","fontSize":1,"opacity":0},"encoding":{"text":{"value":""}}},
{"width":548,"height":80,
"layer":[
{"data":{"name":"gridEmg"},"mark":{"type":"rule","color":"#808080","strokeWidth":1.5,"strokeDash":[1.5,23.5]},"encoding":{"y":{"field":"g","type":"quantitative","scale":{"domain":[-21,19],"nice":false,"zero":false},"axis":null}}},
{"data":{"name":"emgSpikes"},"mark":{"type":"rule","color":"#767676","strokeWidth":1},"encoding":{"x":{"field":"t","type":"quantitative","scale":{"domain":[0,219.2],"nice":false,"zero":false},"axis":null},"y":{"field":"hi","type":"quantitative","scale":{"domain":[-21,19],"nice":false,"zero":false},"axis":null},"y2":{"field":"lo"}}},
{"data":{"name":"emgTexture"},"mark":{"type":"rule","color":"#666666","strokeWidth":1},"encoding":{"x":{"field":"t","type":"quantitative","scale":{"domain":[0,219.2],"nice":false,"zero":false},"axis":null},"y":{"field":"hi","type":"quantitative","scale":{"domain":[-21,19],"nice":false,"zero":false},"axis":null},"y2":{"field":"lo"}}},
{"data":{"name":"emgBand"},"mark":{"type":"area","color":"#484848"},"encoding":{"x":{"field":"t","type":"quantitative","scale":{"domain":[0,219.2],"nice":false,"zero":false},"axis":null},"y":{"field":"hi","type":"quantitative","scale":{"domain":[-21,19],"nice":false,"zero":false},"axis":null},"y2":{"field":"lo"}}},
{"data":{"name":"one"},"mark":{"type":"rule","color":"#444444","strokeWidth":1,"strokeDash":[1,1]},"encoding":{"y":{"datum":-20.5,"type":"quantitative","scale":{"domain":[-21,19],"nice":false,"zero":false},"axis":null}}},
{"data":{"name":"cursor"},"mark":{"type":"rule","color":"#1a1a1a","strokeWidth":1.5},"encoding":{"x":{"field":"t","type":"quantitative","scale":{"domain":[0,219.2],"nice":false,"zero":false},"axis":null}}},
{"data":{"name":"edge"},"mark":{"type":"rule","color":"#9a9a9a","strokeWidth":1},"encoding":{"x":{"field":"t","type":"quantitative","scale":{"domain":[0,219.2],"nice":false,"zero":false},"axis":null}}},
{"data":{"name":"events"},"mark":{"type":"rule","color":"#1fb0b8","strokeWidth":1},"encoding":{"x":{"field":"t","type":"quantitative","scale":{"domain":[0,219.2],"nice":false,"zero":false},"axis":null},"y":{"datum":13,"type":"quantitative","scale":{"domain":[-21,19],"nice":false,"zero":false},"axis":null},"y2":{"datum":9.5}}},
{"data":{"name":"events"},"mark":{"type":"point","shape":"M-0.75,-1H0.75V1H-0.75Z","filled":true,"color":"#ffffff","stroke":"#1fb0b8","strokeWidth":1,"size":144,"opacity":1},"encoding":{"x":{"field":"t","type":"quantitative","scale":{"domain":[0,219.2],"nice":false,"zero":false},"axis":null},"y":{"datum":16,"type":"quantitative","scale":{"domain":[-21,19],"nice":false,"zero":false},"axis":null}}},
{"data":{"name":"events"},"mark":{"type":"text","color":"#1fb0b8","fontSize":10},"encoding":{"x":{"field":"t","type":"quantitative","scale":{"domain":[0,219.2],"nice":false,"zero":false},"axis":null},"y":{"datum":16,"type":"quantitative","scale":{"domain":[-21,19],"nice":false,"zero":false},"axis":null},"text":{"field":"code"}}},
{"data":{"name":"events"},"transform":[{"filter":"datum.n < 3"}],"mark":{"type":"text","align":"left","dx":1,"color":"#22b2b8","fontSize":11},"encoding":{"x":{"field":"t","type":"quantitative","scale":{"domain":[0,219.2],"nice":false,"zero":false},"axis":null},"y":{"datum":8,"type":"quantitative","scale":{"domain":[-21,19],"nice":false,"zero":false},"axis":null},"text":{"field":"label"}}},
{"data":{"name":"events"},"transform":[{"filter":"datum.n == 3"}],"mark":{"type":"text","align":"left","dx":1,"color":"#22b2b8","fontSize":11},"encoding":{"x":{"field":"t","type":"quantitative","scale":{"domain":[0,219.2],"nice":false,"zero":false},"axis":null},"y":{"datum":-1,"type":"quantitative","scale":{"domain":[-21,19],"nice":false,"zero":false},"axis":null},"text":{"field":"label"}}},
{"data":{"name":"readouts"},"transform":[{"filter":"datum.ch == 'EMG1'"}],"mark":{"type":"text","align":"left","color":"#5a5a5a","fontSize":11},"encoding":{"x":{"field":"t","type":"quantitative","scale":{"domain":[0,219.2],"nice":false,"zero":false},"axis":null},"y":{"datum":-17.5,"type":"quantitative","scale":{"domain":[-21,19],"nice":false,"zero":false},"axis":null},"text":{"field":"txt"}}}
]},
{"width":548,"height":80,
"layer":[
{"data":{"name":"gridQura"},"mark":{"type":"rule","color":"#808080","strokeWidth":1.5,"strokeDash":[1.5,23.5]},"encoding":{"y":{"field":"g","type":"quantitative","scale":{"domain":[-1,50],"nice":false,"zero":false},"axis":null}}},
{"data":{"name":"qura"},"mark":{"type":"line","color":"#2eb34a","strokeWidth":2.2},"encoding":{"x":{"field":"t","type":"quantitative","scale":{"domain":[0,219.2],"nice":false,"zero":false},"axis":null},"y":{"field":"v","type":"quantitative","scale":{"domain":[-1,50],"nice":false,"zero":false},"axis":null}}},
{"data":{"name":"cursor"},"mark":{"type":"rule","color":"#1a1a1a","strokeWidth":1.5},"encoding":{"x":{"field":"t","type":"quantitative","scale":{"domain":[0,219.2],"nice":false,"zero":false},"axis":null}}},
{"data":{"name":"edge"},"mark":{"type":"rule","color":"#9a9a9a","strokeWidth":1},"encoding":{"x":{"field":"t","type":"quantitative","scale":{"domain":[0,219.2],"nice":false,"zero":false},"axis":null}}},
{"data":{"name":"readouts"},"transform":[{"filter":"datum.ch == 'Qura'"}],"mark":{"type":"text","align":"left","color":"#2eb34a","fontSize":11},"encoding":{"x":{"field":"t","type":"quantitative","scale":{"domain":[0,219.2],"nice":false,"zero":false},"axis":null},"y":{"datum":33,"type":"quantitative","scale":{"domain":[-1,50],"nice":false,"zero":false},"axis":null},"text":{"field":"txt"}}}
]},
{"width":548,"height":81,
"layer":[
{"data":{"name":"gridP"},"mark":{"type":"rule","color":"#808080","strokeWidth":1.5,"strokeDash":[1.5,23.5]},"encoding":{"y":{"field":"g","type":"quantitative","scale":{"domain":[0,100],"nice":false,"zero":false},"axis":null}}},
{"data":{"name":"one"},"mark":{"type":"rule","color":"#444444","strokeWidth":1,"strokeDash":[1,1]},"encoding":{"y":{"datum":0,"type":"quantitative","scale":{"domain":[0,100],"nice":false,"zero":false},"axis":null}}},
{"data":{"name":"pdet"},"mark":{"type":"line","color":"#c42a2a","strokeWidth":1.2},"encoding":{"x":{"field":"t","type":"quantitative","scale":{"domain":[0,219.2],"nice":false,"zero":false},"axis":null},"y":{"field":"v","type":"quantitative","scale":{"domain":[0,100],"nice":false,"zero":false},"axis":null}}},
{"data":{"name":"cursor"},"mark":{"type":"rule","color":"#1a1a1a","strokeWidth":1.5},"encoding":{"x":{"field":"t","type":"quantitative","scale":{"domain":[0,219.2],"nice":false,"zero":false},"axis":null}}},
{"data":{"name":"edge"},"mark":{"type":"rule","color":"#9a9a9a","strokeWidth":1},"encoding":{"x":{"field":"t","type":"quantitative","scale":{"domain":[0,219.2],"nice":false,"zero":false},"axis":null}}},
{"data":{"name":"readouts"},"transform":[{"filter":"datum.ch == 'Pdet'"}],"mark":{"type":"text","align":"left","color":"#c42a2a","fontSize":11},"encoding":{"x":{"field":"t","type":"quantitative","scale":{"domain":[0,219.2],"nice":false,"zero":false},"axis":null},"y":{"datum":65,"type":"quantitative","scale":{"domain":[0,100],"nice":false,"zero":false},"axis":null},"text":{"field":"txt"}}}
]},
{"width":548,"height":80,
"layer":[
{"data":{"name":"gridP"},"mark":{"type":"rule","color":"#808080","strokeWidth":1.5,"strokeDash":[1.5,23.5]},"encoding":{"y":{"field":"g","type":"quantitative","scale":{"domain":[0,100],"nice":false,"zero":false},"axis":null}}},
{"data":{"name":"one"},"mark":{"type":"rule","color":"#444444","strokeWidth":1,"strokeDash":[1,1]},"encoding":{"y":{"datum":0,"type":"quantitative","scale":{"domain":[0,100],"nice":false,"zero":false},"axis":null}}},
{"data":{"name":"pabd"},"mark":{"type":"line","color":"#3232a8","strokeWidth":1.2},"encoding":{"x":{"field":"t","type":"quantitative","scale":{"domain":[0,219.2],"nice":false,"zero":false},"axis":null},"y":{"field":"v","type":"quantitative","scale":{"domain":[0,100],"nice":false,"zero":false},"axis":null}}},
{"data":{"name":"cursor"},"mark":{"type":"rule","color":"#1a1a1a","strokeWidth":1.5},"encoding":{"x":{"field":"t","type":"quantitative","scale":{"domain":[0,219.2],"nice":false,"zero":false},"axis":null}}},
{"data":{"name":"edge"},"mark":{"type":"rule","color":"#9a9a9a","strokeWidth":1},"encoding":{"x":{"field":"t","type":"quantitative","scale":{"domain":[0,219.2],"nice":false,"zero":false},"axis":null}}},
{"data":{"name":"readouts"},"transform":[{"filter":"datum.ch == 'Pabd'"}],"mark":{"type":"text","align":"left","color":"#3232a8","fontSize":11},"encoding":{"x":{"field":"t","type":"quantitative","scale":{"domain":[0,219.2],"nice":false,"zero":false},"axis":null},"y":{"datum":65,"type":"quantitative","scale":{"domain":[0,100],"nice":false,"zero":false},"axis":null},"text":{"field":"txt"}}}
]},
{"width":548,"height":81,
"layer":[
{"data":{"name":"gridP"},"mark":{"type":"rule","color":"#808080","strokeWidth":1.5,"strokeDash":[1.5,23.5]},"encoding":{"y":{"field":"g","type":"quantitative","scale":{"domain":[0,100],"nice":false,"zero":false},"axis":null}}},
{"data":{"name":"one"},"mark":{"type":"rule","color":"#444444","strokeWidth":1,"strokeDash":[1,1]},"encoding":{"y":{"datum":0,"type":"quantitative","scale":{"domain":[0,100],"nice":false,"zero":false},"axis":null}}},
{"data":{"name":"pves"},"mark":{"type":"line","color":"#2eb34a","strokeWidth":1.2},"encoding":{"x":{"field":"t","type":"quantitative","scale":{"domain":[0,219.2],"nice":false,"zero":false},"axis":null},"y":{"field":"v","type":"quantitative","scale":{"domain":[0,100],"nice":false,"zero":false},"axis":null}}},
{"data":{"name":"cursor"},"mark":{"type":"rule","color":"#1a1a1a","strokeWidth":1.5},"encoding":{"x":{"field":"t","type":"quantitative","scale":{"domain":[0,219.2],"nice":false,"zero":false},"axis":null}}},
{"data":{"name":"edge"},"mark":{"type":"rule","color":"#9a9a9a","strokeWidth":1},"encoding":{"x":{"field":"t","type":"quantitative","scale":{"domain":[0,219.2],"nice":false,"zero":false},"axis":null}}},
{"data":{"name":"readouts"},"transform":[{"filter":"datum.ch == 'Pves'"}],"mark":{"type":"text","align":"left","color":"#2eb34a","fontSize":11},"encoding":{"x":{"field":"t","type":"quantitative","scale":{"domain":[0,219.2],"nice":false,"zero":false},"axis":null},"y":{"datum":65,"type":"quantitative","scale":{"domain":[0,100],"nice":false,"zero":false},"axis":null},"text":{"field":"txt"}}}
]},
{"width":548,"height":19,
"layer":[
{"data":{"name":"phases"},"mark":{"type":"rule","color":"#7b2a8c","strokeWidth":3.5},"encoding":{"x":{"field":"start","type":"quantitative","scale":{"domain":[0,219.2],"nice":false,"zero":false},"axis":null},"x2":{"field":"end"},"y":{"datum":0.93,"type":"quantitative","scale":{"domain":[0,1],"nice":false,"zero":false},"axis":null}}},
{"data":{"name":"ticks"},"mark":{"type":"rule","color":"#444444","strokeWidth":1},"encoding":{"x":{"field":"t","type":"quantitative","scale":{"domain":[0,219.2],"nice":false,"zero":false},"axis":null},"y":{"datum":0,"type":"quantitative","scale":{"domain":[0,1],"nice":false,"zero":false},"axis":null},"y2":{"datum":0.16}}},
{"data":{"name":"timeLabels"},"mark":{"type":"text","color":"#222222","fontSize":11},"encoding":{"x":{"field":"t","type":"quantitative","scale":{"domain":[0,219.2],"nice":false,"zero":false},"axis":null},"y":{"datum":0.45,"type":"quantitative","scale":{"domain":[0,1],"nice":false,"zero":false},"axis":null},"text":{"field":"lab"}}},
{"data":{"name":"cursor"},"mark":{"type":"rule","color":"#1a1a1a","strokeWidth":1.5},"encoding":{"x":{"field":"t","type":"quantitative","scale":{"domain":[0,219.2],"nice":false,"zero":false},"axis":null}}},
{"data":{"name":"edge"},"mark":{"type":"rule","color":"#9a9a9a","strokeWidth":1},"encoding":{"x":{"field":"t","type":"quantitative","scale":{"domain":[0,219.2],"nice":false,"zero":false},"axis":null}}}
]},
{"width":548,"height":14,"view":{"fill":"#d9d9d9","stroke":"#8a8a8a","strokeWidth":1},"data":{"name":"one"},
"layer":[
{"mark":{"type":"point","shape":"square","filled":true,"color":"#d0d0d0","stroke":"#6a6a6a","strokeWidth":1,"size":150,"opacity":1},"encoding":{"x":{"datum":2.6,"type":"quantitative","scale":{"domain":[0,219.2],"nice":false,"zero":false},"axis":null}}},
{"mark":{"type":"point","shape":"square","filled":true,"color":"#d0d0d0","stroke":"#6a6a6a","strokeWidth":1,"size":150,"opacity":1},"encoding":{"x":{"datum":216.6,"type":"quantitative","scale":{"domain":[0,219.2],"nice":false,"zero":false},"axis":null}}},
{"mark":{"type":"point","shape":"triangle-left","filled":true,"color":"#000000","size":22,"opacity":1},"encoding":{"x":{"datum":2.6,"type":"quantitative","scale":{"domain":[0,219.2],"nice":false,"zero":false},"axis":null}}},
{"mark":{"type":"point","shape":"triangle-right","filled":true,"color":"#000000","size":22,"opacity":1},"encoding":{"x":{"datum":216.6,"type":"quantitative","scale":{"domain":[0,219.2],"nice":false,"zero":false},"axis":null}}}
]},
{"width":548,"height":3,"data":{"name":"one"},"mark":{"type":"text","fontSize":1,"opacity":0},"encoding":{"text":{"value":""}}},
{"hconcat":[
{"width":87,"height":16,"view":{"fill":"#cfcfcf","stroke":null},"data":{"name":"one"},"mark":{"type":"text","fontSize":1,"opacity":0},"encoding":{"text":{"value":""}}},
{"width":228,"height":16,"view":{"fill":"#cfcfcf","stroke":null},"data":{"name":"status"},"transform":[{"filter":"datum.sec == 2"}],"mark":{"type":"text","align":"left","dx":3,"fontSize":12,"color":"#111111"},"encoding":{"text":{"field":"txt"},"x":{"datum":"left","type":"nominal","scale":{"type":"point","domain":["left","right"],"padding":0},"axis":null}}},
{"width":229,"height":16,"view":{"fill":"#cfcfcf","stroke":null},"data":{"name":"status"},"transform":[{"filter":"datum.sec == 3"}],"mark":{"type":"text","align":"left","dx":3,"fontSize":12,"color":"#111111"},"encoding":{"text":{"field":"txt"},"x":{"datum":"left","type":"nominal","scale":{"type":"point","domain":["left","right"],"padding":0},"axis":null}}}
],"spacing":2}
],"spacing":0,"bounds":"flush"}
]
}
